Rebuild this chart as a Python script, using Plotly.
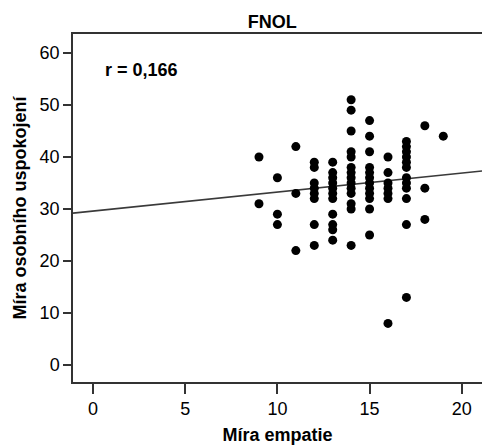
import plotly.graph_objects as go

# Data (x = Míra empatie, y = Míra osobního uspokojení)
empatie = (
    [9, 9]
    + [10, 10, 10]
    + [11, 11, 11]
    + [12] * 8
    + [13] * 11
    + [14] * 14
    + [15] * 12
    + [16] * 7
    + [17] * 12
    + [18] * 3
    + [19]
)
uspokojeni = (
    [40, 31]
    + [36, 29, 27]
    + [42, 33, 22]
    + [39, 38, 35, 34, 33, 32, 27, 23]
    + [39, 37, 36, 35, 34, 33, 32, 29, 27, 26, 24]
    + [51, 49, 45, 41, 40, 38, 37, 36, 35, 34, 33, 31, 30, 23]
    + [47, 44, 41, 38, 37, 36, 35, 34, 33, 32, 30, 25]
    + [40, 37, 35, 34, 33, 32, 8]
    + [43, 42, 41, 40, 39, 38, 36, 35, 34, 32, 27, 13]
    + [46, 34, 28]
    + [44]
)

# Fit line
fit_intercept = 29.6
fit_slope = 0.365
r_label = "r = 0,166"

x_range = [-1.09, 21.1]
y_range = [-3.27, 63.65]
x_ticks = [0, 5, 10, 15, 20]
y_ticks = [0, 10, 20, 30, 40, 50, 60]

line_x = x_range
line_y = [fit_intercept + fit_slope * v for v in line_x]

fig = go.Figure()
fig.add_trace(go.Scatter(
    x=line_x, y=line_y, mode="lines",
    line=dict(color="#3a3a3a", width=1.6),
    hoverinfo="skip", showlegend=False,
))
fig.add_trace(go.Scatter(
    x=empatie, y=uspokojeni, mode="markers",
    marker=dict(color="black", size=9),
    showlegend=False,
))

font = "Liberation Sans, Arial, sans-serif"
fig.update_layout(
    width=482, height=447,
    margin=dict(l=73, r=0, t=34, b=65, autoexpand=False),
    paper_bgcolor="white", plot_bgcolor="white",
    font=dict(family=font, color="black", size=18),
    title=dict(text="<b>FNOL</b>", x=0.565, xanchor="center", y=0.952, yanchor="middle",
               font=dict(size=18, family=font, color="black")),
    xaxis=dict(
        range=x_range, tickvals=x_ticks, showgrid=False, zeroline=False, automargin=False,
        showline=True, linecolor="#333333", linewidth=1.5, mirror=True,
        ticks="outside", ticklen=10, tickcolor="#333333", tickwidth=1.5,
        tickfont=dict(size=18, family=font, color="black"),
        title=dict(text="<b>Míra empatie</b>", font=dict(size=18, family=font, color="black"), standoff=10),
    ),
    yaxis=dict(
        range=y_range, tickvals=y_ticks, showgrid=False, zeroline=False, automargin=False,
        showline=True, linecolor="#333333", linewidth=1.5, mirror=True,
        ticks="outside", ticklen=8, tickcolor="#333333", tickwidth=1.5,
        tickfont=dict(size=18, family=font, color="black"),
        title=dict(text="<b>Míra osobního uspokojení</b>", font=dict(size=18, family=font, color="black"), standoff=8),
    ),
    annotations=[dict(
        text="<b>" + r_label + "</b>", xref="paper", yref="paper",
        x=(103 - 73) / 409, y=(382 - 70) / 348, xanchor="left", yanchor="middle",
        showarrow=False, font=dict(size=18, family=font, color="black"),
    )],
)

fig.write_html(
    "out.html",
    config={"displayModeBar": False},
    post_script="document.body.style.margin='0';document.body.style.overflow='hidden';",
)
